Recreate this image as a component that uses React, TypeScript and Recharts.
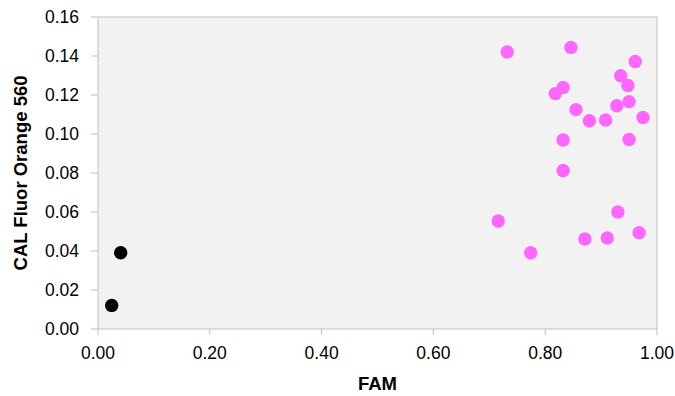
import React from "react";
import {
  ScatterChart,
  Scatter,
  XAxis,
  YAxis,
  CartesianGrid,
  ReferenceLine,
} from "recharts";

// controls (black) and samples (pink)
const controlFam = [0.0245, 0.0406];
const controlCal = [0.0121, 0.0391];

const sampleFam = [
  0.732, 0.846, 0.961, 0.935, 0.948, 0.832, 0.818, 0.95, 0.928, 0.855, 0.879,
  0.908, 0.975, 0.832, 0.95, 0.832, 0.93, 0.716, 0.871, 0.911, 0.968, 0.774,
];
const sampleCal = [
  0.1421, 0.1444, 0.1372, 0.1299, 0.1249, 0.1239, 0.1207, 0.1166, 0.1145,
  0.1125, 0.1068, 0.1072, 0.1085, 0.0969, 0.0972, 0.0813, 0.06, 0.0554,
  0.0462, 0.0467, 0.0494, 0.0391,
];

const xTicks = [0, 0.2, 0.4, 0.6, 0.8, 1.0];
const yTicks = [0, 0.02, 0.04, 0.06, 0.08, 0.1, 0.12, 0.14, 0.16];

const FONT = "'Liberation Sans', Arial, sans-serif";
const AXIS_GRAY = "#bfbfbf";

const controls = controlFam.map((x, i) => ({ x, y: controlCal[i] }));
const samples = sampleFam.map((x, i) => ({ x, y: sampleCal[i] }));

const Dot = (props: any) => {
  const { cx, cy, fill } = props;
  if (cx == null || cy == null) return null;
  return <circle cx={cx} cy={cy} r={6.7} fill={fill} />;
};

const App: React.FC = () => {
  return (
    <div style={{ position: "absolute", left: 0, top: 0, fontFamily: FONT }}>
      <ScatterChart
        width={675}
        height={396}
        margin={{ top: 17, right: 18, bottom: 37, left: 38 }}
      >
        <CartesianGrid horizontal={false} vertical={false} fill="#f2f2f2" />
        <XAxis
          type="number"
          dataKey="x"
          domain={[0, 1]}
          ticks={xTicks}
          tickFormatter={(v: number) => v.toFixed(2)}
          height={30}
          stroke={AXIS_GRAY}
          tickSize={6}
          tickMargin={12}
          tick={{ fill: "#000", fontSize: 17.5, fontFamily: FONT }}
          label={{
            value: "FAM",
            position: "insideBottom",
            offset: -31,
            fill: "#000",
            fontSize: 18.5,
            fontWeight: "bold",
            fontFamily: FONT,
          }}
        />
        <YAxis
          type="number"
          dataKey="y"
          domain={[0, 0.16]}
          ticks={yTicks}
          tickFormatter={(v: number) => v.toFixed(2)}
          width={60}
          stroke={AXIS_GRAY}
          tickSize={7}
          tickMargin={12}
          tick={{ fill: "#000", fontSize: 17.5, fontFamily: FONT }}
          label={{
            value: "CAL Fluor Orange 560",
            angle: -90,
            position: "center",
            dx: -48,
            fill: "#000",
            fontSize: 18.5,
            fontWeight: "bold",
            fontFamily: FONT,
          }}
        />
        <ReferenceLine y={0.16} stroke={AXIS_GRAY} />
        <ReferenceLine x={1} stroke={AXIS_GRAY} />
        <Scatter
          data={samples}
          fill="#ff66ff"
          shape={<Dot />}
          isAnimationActive={false}
        />
        <Scatter
          data={controls}
          fill="#000000"
          shape={<Dot />}
          isAnimationActive={false}
        />
      </ScatterChart>
    </div>
  );
};

export default App;
